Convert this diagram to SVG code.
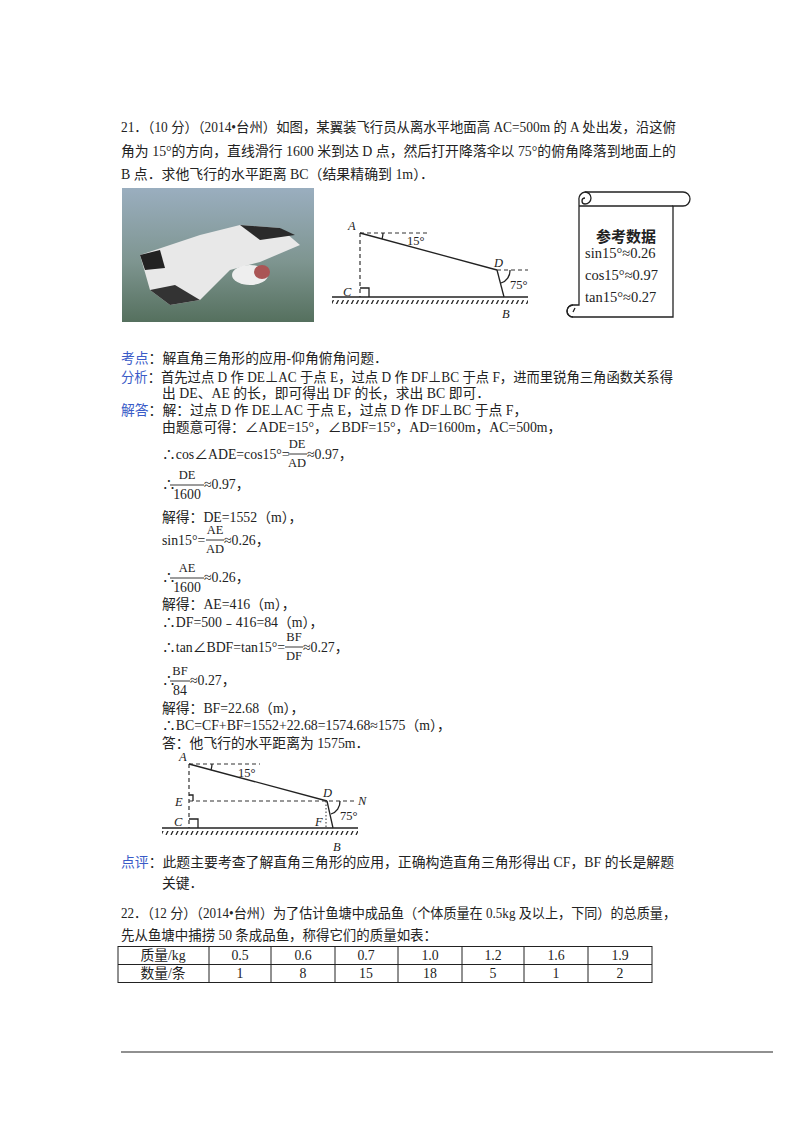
<svg xmlns="http://www.w3.org/2000/svg" width="800" height="1132" viewBox="0 0 800 1132">
<style>
text{font-family:"Liberation Serif","Noto Sans CJK SC",serif;font-size:13.8px;fill:#222}
.b{fill:#3a5bc7}
.s{font-size:12.5px}
.i{font-style:italic}
.ln{stroke:#222;stroke-width:1.3;fill:none}
.ds{stroke:#333;stroke-width:1.2;stroke-dasharray:4,3;fill:none}
.fr{stroke:#222;stroke-width:0.9}
</style>
<defs>
<pattern id="hatch" width="5" height="5" patternUnits="userSpaceOnUse"><line x1="1" y1="5" x2="3.5" y2="0" stroke="#222" stroke-width="1.3"/></pattern>
<linearGradient id="sky" x1="0" y1="0" x2="0" y2="1"><stop offset="0" stop-color="#9aaebf"/><stop offset="0.55" stop-color="#7e9590"/><stop offset="1" stop-color="#55705e"/></linearGradient>
</defs>
<rect width="800" height="1132" fill="#fff"/>
<g id="q21">
<text x="121" y="132" textLength="555" lengthAdjust="spacingAndGlyphs">21．（10 分）（2014•台州）如图，某翼装飞行员从离水平地面高 AC=500m 的 A 处出发，沿这俯</text>
<text x="121" y="156" textLength="555" lengthAdjust="spacingAndGlyphs">角为 15°的方向，直线滑行 1600 米到达 D 点，然后打开降落伞以 75°的俯角降落到地面上的</text>
<text x="121" y="179" textLength="313" lengthAdjust="spacingAndGlyphs">B 点．求他飞行的水平距离 BC（结果精确到 1m）．</text>
</g>
<g id="photo">
<rect x="122" y="188" width="192" height="134" fill="url(#sky)"/>
<path d="M140 255 L200 235 L240 225 L280 228 L300 245 L260 262 L230 270 L200 300 L170 305 L150 290 Z" fill="#e8e8e8"/>
<path d="M200 300 L170 305 L150 290 L175 285 Z" fill="#333"/>
<path d="M240 225 L280 228 L295 235 L260 240 Z" fill="#2a2a2a"/>
<path d="M140 255 L160 250 L165 268 L145 270 Z" fill="#222"/>
<ellipse cx="250" cy="275" rx="18" ry="10" fill="#eee"/>
<ellipse cx="262" cy="272" rx="8" ry="7" fill="#a55"/>
</g>
<g id="fig1">
<line class="ds" x1="360" y1="233" x2="360" y2="297"/>
<line class="ds" x1="360" y1="233" x2="430" y2="233"/>
<line class="ln" x1="360" y1="233" x2="497" y2="270"/>
<line class="ds" x1="497" y1="270" x2="528" y2="270"/>
<line class="ln" x1="497" y1="270" x2="504" y2="297"/>
<line class="ln" x1="332" y1="297" x2="528" y2="297"/>
<rect x="332" y="300" width="196" height="4" fill="url(#hatch)"/>
<polyline class="ln" points="360,288 369,288 369,297"/>
<path class="ln" d="M383 233 A 22 22 0 0 1 382 239"/>
<path class="ln" d="M510 270 A 13 13 0 0 1 501 283"/>
<text class="i s" x="348" y="230">A</text>
<text class="i s" x="343" y="296">C</text>
<text class="i s" x="494" y="267">D</text>
<text class="i s" x="502" y="318">B</text>
<text class="s" x="407" y="245">15°</text>
<text class="s" x="510" y="289">75°</text>
</g>
<g id="scroll">
<path class="ln" d="M585 192 L683 192 A6 6 0 0 1 683 206 L673 206 L673 317 L573 317 A6 6 0 0 1 573 305 L579 305 L579 200 A7 7 0 0 1 585 192 Z"/>
<path class="ln" d="M579 206 L673 206"/>
<path class="ln" d="M585 192 A6 6 0 0 1 585 204 A3 3 0 0 1 585 198"/>
<path class="ln" d="M573 305 A6 6 0 0 0 573 317 M575 308 L573 312"/>
<text x="626" y="242" text-anchor="middle" font-weight="bold" style="font-size:15px">参考数据</text>
<text x="585" y="258" style="font-size:14.5px">sin15°≈0.26</text>
<text x="585" y="280" style="font-size:14.5px">cos15°≈0.97</text>
<text x="585" y="302" style="font-size:14.5px">tan15°≈0.27</text>
</g>
<g id="answer">
<text x="121" y="363"><tspan class="b">考点</tspan>：解直角三角形的应用-仰角俯角问题．</text>
<text x="121" y="382" textLength="552" lengthAdjust="spacingAndGlyphs"><tspan class="b">分析</tspan>：首先过点 D 作 DE⊥AC 于点 E，过点 D 作 DF⊥BC 于点 F，进而里锐角三角函数关系得</text>
<text x="162" y="398">出 DE、AE 的长，即可得出 DF 的长，求出 BC 即可．</text>
<text x="121" y="415"><tspan class="b">解答</tspan>：解：过点 D 作 DE⊥AC 于点 E，过点 D 作 DF⊥BC 于点 F，</text>
<text x="162" y="432">由题意可得：∠ADE=15°，∠BDF=15°，AD=1600m，AC=500m，</text>
<text x="162" y="459">∴cos∠ADE=cos15°=</text>
<text class="s" x="297" y="448" text-anchor="middle">DE</text><line class="fr" x1="288" y1="454" x2="307" y2="454"/><text class="s" x="297" y="467" text-anchor="middle">AD</text>
<text x="307" y="459">≈0.97，</text>
<text x="162" y="489">∴</text>
<text class="s" x="187" y="479" text-anchor="middle">DE</text><line class="fr" x1="170" y1="485" x2="204" y2="485"/><text x="187" y="499" text-anchor="middle" font-family="Liberation Sans">1600</text>
<text x="204" y="489">≈0.97，</text>
<text x="162" y="522">解得：DE=1552（m），</text>
<text x="162" y="545">sin15°=</text>
<text class="s" x="215" y="534" text-anchor="middle">AE</text><line class="fr" x1="206" y1="540" x2="224" y2="540"/><text class="s" x="215" y="553" text-anchor="middle">AD</text>
<text x="224" y="545">≈0.26，</text>
<text x="162" y="582">∴</text>
<text class="s" x="187" y="572" text-anchor="middle">AE</text><line class="fr" x1="170" y1="578" x2="204" y2="578"/><text x="187" y="592" text-anchor="middle" font-family="Liberation Sans">1600</text>
<text x="204" y="582">≈0.26，</text>
<text x="162" y="609">解得：AE=416（m），</text>
<text x="162" y="627">∴DF=500﹣416=84（m），</text>
<text x="162" y="652">∴tan∠BDF=tan15°=</text>
<text class="s" x="294" y="641" text-anchor="middle">BF</text><line class="fr" x1="285" y1="647" x2="303" y2="647"/><text class="s" x="294" y="660" text-anchor="middle">DF</text>
<text x="303" y="652">≈0.27，</text>
<text x="162" y="685">∴</text>
<text class="s" x="180" y="675" text-anchor="middle">BF</text><line class="fr" x1="170" y1="681" x2="190" y2="681"/><text x="180" y="695" text-anchor="middle" font-family="Liberation Sans">84</text>
<text x="190" y="685">≈0.27，</text>
<text x="162" y="713">解得：BF=22.68（m），</text>
<text x="162" y="730">∴BC=CF+BF=1552+22.68=1574.68≈1575（m），</text>
<text x="162" y="748">答：他飞行的水平距离为 1575m．</text>
</g>
<g id="fig2">
<line class="ds" x1="189" y1="764" x2="189" y2="828"/>
<line class="ds" x1="189" y1="764" x2="260" y2="764"/>
<line class="ln" x1="189" y1="764" x2="327" y2="801"/>
<line class="ds" x1="189" y1="801" x2="355" y2="801"/>
<line stroke="#333" stroke-width="1" stroke-dasharray="1.5,2" x1="326" y1="801" x2="326" y2="828"/>
<line class="ln" x1="327" y1="801" x2="333" y2="828"/>
<line class="ln" x1="162" y1="828" x2="358" y2="828"/>
<rect x="162" y="831" width="196" height="4" fill="url(#hatch)"/>
<polyline class="ln" points="189,795 193,795 193,801"/>
<polyline class="ln" points="189,819 198,819 198,828"/>
<path class="ln" d="M212 764 A 22 22 0 0 1 211 770"/>
<path class="ln" d="M340 801 A 13 13 0 0 1 331 814"/>
<text class="i s" x="179" y="761">A</text>
<text class="i s" x="175" y="806">E</text>
<text class="i s" x="174" y="826">C</text>
<text class="i s" x="323" y="797">D</text>
<text class="i s" x="358" y="805">N</text>
<text class="i s" x="315" y="826">F</text>
<text class="i s" x="333" y="851">B</text>
<text class="s" x="238" y="777">15°</text>
<text class="s" x="340" y="820">75°</text>
</g>
<g id="comment">
<text x="121" y="867" textLength="553" lengthAdjust="spacingAndGlyphs"><tspan class="b">点评</tspan>：此题主要考查了解直角三角形的应用，正确构造直角三角形得出 CF，BF 的长是解题</text>
<text x="162" y="888">关键．</text>
</g>
<g id="q22">
<text x="121" y="918" textLength="555" lengthAdjust="spacingAndGlyphs">22．（12 分）（2014•台州）为了估计鱼塘中成品鱼（个体质量在 0.5kg 及以上，下同）的总质量，</text>
<text x="121" y="940" textLength="316" lengthAdjust="spacingAndGlyphs">先从鱼塘中捕捞 50 条成品鱼，称得它们的质量如表：</text>
</g>
<g id="table">
<rect x="118" y="946.5" width="534" height="36" fill="none" stroke="#222" stroke-width="1"/>
<line stroke="#222" x1="118" y1="964.5" x2="652" y2="964.5"/>
<g stroke="#222"><line x1="209" y1="946.5" x2="209" y2="982.5"/><line x1="271" y1="946.5" x2="271" y2="982.5"/><line x1="335" y1="946.5" x2="335" y2="982.5"/><line x1="398" y1="946.5" x2="398" y2="982.5"/><line x1="462" y1="946.5" x2="462" y2="982.5"/><line x1="524" y1="946.5" x2="524" y2="982.5"/><line x1="588" y1="946.5" x2="588" y2="982.5"/></g>
<g text-anchor="middle">
<text x="163" y="960">质量/kg</text><text x="240" y="960">0.5</text><text x="303" y="960">0.6</text><text x="366" y="960">0.7</text><text x="430" y="960">1.0</text><text x="493" y="960">1.2</text><text x="556" y="960">1.6</text><text x="620" y="960">1.9</text>
<text x="163" y="978">数量/条</text><text x="240" y="978">1</text><text x="303" y="978">8</text><text x="366" y="978">15</text><text x="430" y="978">18</text><text x="493" y="978">5</text><text x="556" y="978">1</text><text x="620" y="978">2</text>
</g>
</g>
<line stroke="#222" stroke-width="1.2" x1="121" y1="1052" x2="773" y2="1052"/>
</svg>
